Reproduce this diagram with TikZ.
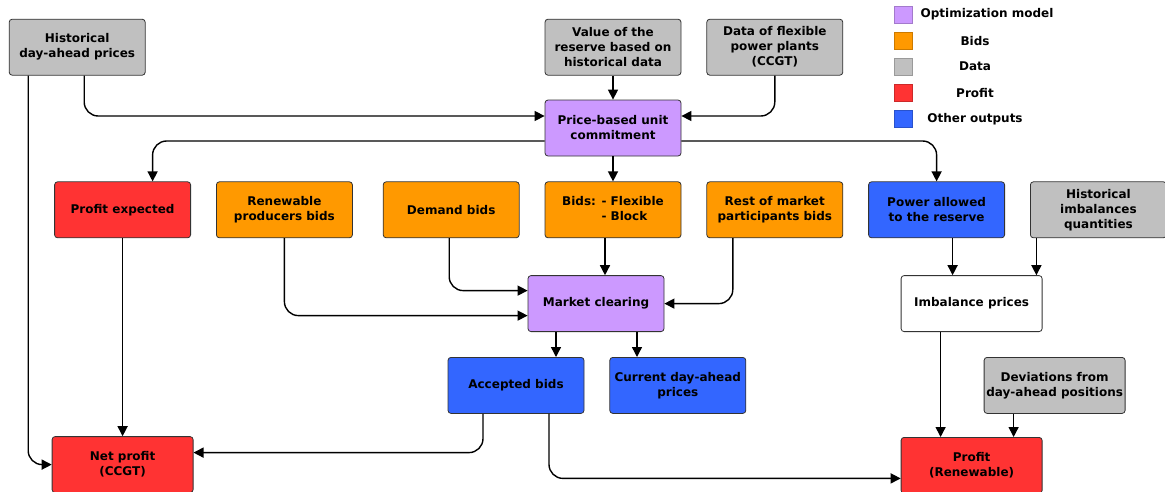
\documentclass[tikz,border=0pt]{standalone}
\usepackage{fontspec}
\setmainfont{DejaVu Sans}
\usetikzlibrary{positioning,arrows.meta}

\definecolor{modelcol}{HTML}{CC99FF}
\definecolor{bidcol}{HTML}{FF9900}
\definecolor{datacol}{HTML}{C0C0C0}
\definecolor{profitcol}{HTML}{FF3333}
\definecolor{outcol}{HTML}{3366FF}

\begin{document}
\begin{tikzpicture}[x=1pt, y=-1pt, ->, >={Triangle[length=10pt,width=10pt]}, line width=1.4pt,
        main node/.style={rectangle, draw=black!80, line width=0.8pt, rounded corners=3pt,
            minimum width=136pt, minimum height=56pt, inner sep=1pt, align=center,
            font=\fontsize{12}{15}\selectfont\bfseries},
        wide/.style={minimum width=141pt},
        model box/.style={main node, fill=modelcol},
        bid box/.style={main node, fill=bidcol},
        data box/.style={main node, fill=datacol},
        profit box/.style={main node, fill=profitcol},
        output box/.style={main node, fill=outcol},
        elbow/.style={rounded corners=14pt},
        key box/.style={rectangle, draw=#1!80!black, fill=#1, line width=0.5pt,
            minimum width=18pt, minimum height=17pt, inner sep=0pt},
        key text/.style={font=\fontsize{12}{15}\selectfont\bfseries, inner sep=0pt}]
        \useasboundingbox (0,0) rectangle (1165,491);

        \node[model box] (commitment) at (613,128) {Price-based unit\\commitment};
        \node[data box, above=24pt of commitment] (reserve) {Value of the\\reserve based on\\historical data};
        \node[data box, right=25pt of reserve] (flexdata) {Data of flexible\\power plants\\(CCGT)};
        \node[data box, left=399pt of reserve] (histprices) {Historical\\day-ahead prices};

        \node[bid box, below=25pt of commitment] (bids) {\begin{tabular}{@{}l@{ }l@{}}Bids: & - Flexible\\ & - Block\end{tabular}};
        \node[bid box, right=25pt of bids] (rest) {Rest of market\\participants bids};
        \node[output box, right=25pt of rest] (allowed) {Power allowed\\to the reserve};
        \node[data box, right=25pt of allowed] (histimb) {Historical\\imbalances\\quantities};
        \node[bid box, left=25pt of bids] (demand) {Demand bids};
        \node[bid box, left=30pt of demand] (renewable) {Renewable\\producers bids};
        \node[profit box, left=25pt of renewable] (expected) {Profit expected};

        \node[model box, below=37pt of bids, xshift=-17pt] (clearing) {Market clearing};
        \node[output box, below=25pt of clearing, xshift=-80pt] (accepted) {Accepted bids};
        \node[output box, right=25pt of accepted] (current) {Current day-ahead\\prices};
        \node[main node, wide, fill=white, below=37pt of allowed, xshift=35pt] (imbalance) {Imbalance prices};
        \node[data box, wide, below=25pt of imbalance, xshift=83pt] (deviations) {Deviations from\\day-ahead positions};
        \node[profit box, wide, below=105pt of imbalance] (renprofit) {Profit\\(Renewable)};
        \node[profit box, wide, below=198pt of expected] (netprofit) {Net profit\\(CCGT)};

        % legend
        \foreach \col/\txt/\xx [count=\i] in {modelcol/Optimization model/987, bidcol/Bids/975,
                datacol/Data/975, profitcol/Profit/975, outcol/Other outputs/975} {
            \node[key box=\col] (key\i) at (903, {14.5+26.1*(\i-1)}) {};
            \node[key text] (keytext\i) at (\xx, {14.5+26.1*(\i-1)}) {\txt};
        }

        % inputs of the unit commitment
        \draw[elbow] ([xshift=7pt]histprices.south) |- ([yshift=12pt]commitment.west);
        \draw (reserve) -- (commitment);
        \draw[elbow] (flexdata.south) |- ([yshift=12pt]commitment.east);
        \draw (commitment) -- (bids);
        \draw[elbow] ([yshift=-13pt]commitment.west) -| ([xshift=30pt]expected.north);
        \draw[elbow] ([yshift=-13pt]commitment.east) -| (allowed.north);

        % market clearing
        \draw[elbow] (renewable.south) |- ([yshift=-12pt]clearing.west);
        \draw[elbow] ([xshift=-2pt]demand.south) |- ([yshift=13pt]clearing.west);
        \draw ([xshift=9pt]clearing.north |- bids.south) -- ([xshift=9pt]clearing.north);
        \draw[elbow] ([xshift=-42pt]rest.south) |- (clearing.east);
        \draw ([xshift=-40pt]clearing.south) -- ([xshift=-40pt]clearing.south |- accepted.north);
        \draw ([xshift=41pt]clearing.south) -- ([xshift=41pt]clearing.south |- current.north);

        % profits
        \draw (expected) -- (netprofit);
        \draw[elbow] ([xshift=-49pt]histprices.south) |- (netprofit.west);
        \draw[elbow] ([xshift=-33pt]accepted.south) |- ([yshift=12pt]netprofit.east);
        \draw[elbow] ([xshift=33pt]accepted.south) |- ([yshift=-13pt]renprofit.west);
        \draw ([xshift=16pt]allowed.south) -- ([xshift=16pt]allowed.south |- imbalance.north);
        \draw ([xshift=-62pt]histimb.south) -- ([xshift=-62pt]histimb.south |- imbalance.north);
        \draw ([xshift=-31pt]imbalance.south) -- ([xshift=-31pt]imbalance.south |- renprofit.north);
        \draw ([xshift=-41pt]deviations.south) -- ([xshift=-41pt]deviations.south |- renprofit.north);
    \end{tikzpicture}
\end{document}
